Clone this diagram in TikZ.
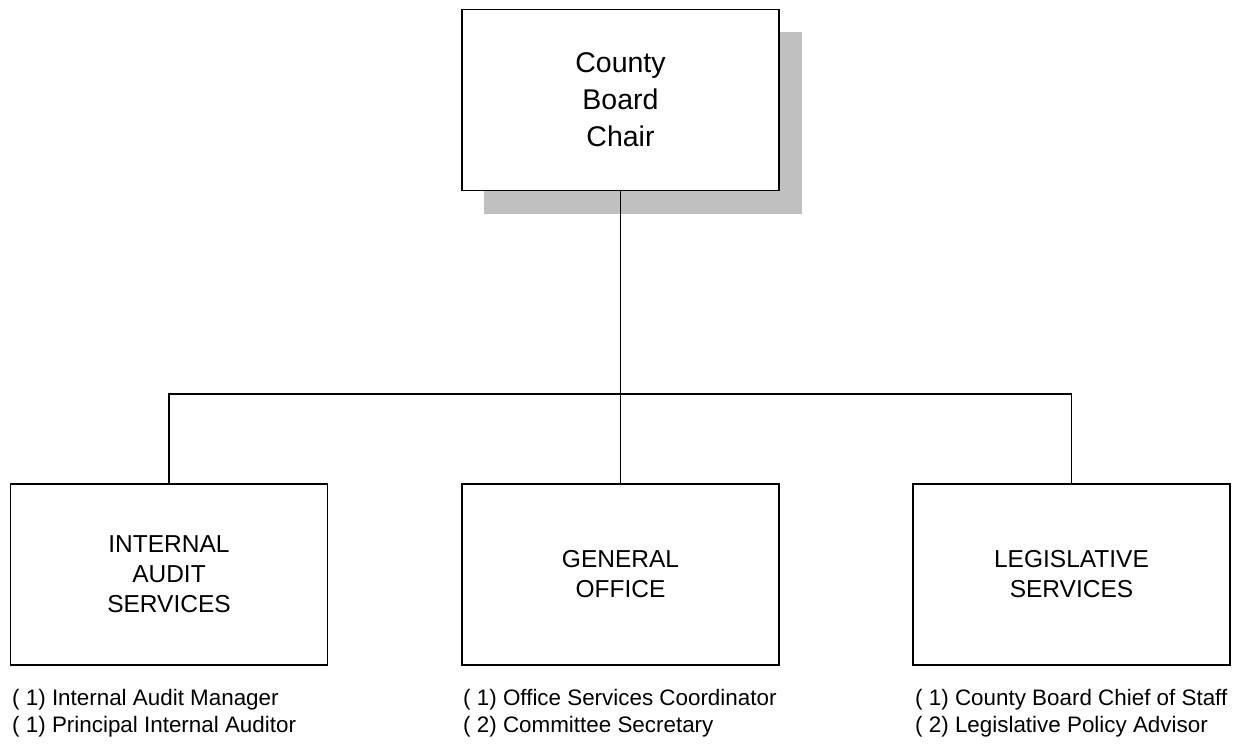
\documentclass[tikz,border=0pt]{standalone}
\usepackage{fontspec}
\setmainfont{Liberation Sans}
\begin{document}
\begin{tikzpicture}[x=1pt,y=-1pt,
  box/.style={draw=black,line width=1.3pt,fill=white,minimum width=317pt,minimum height=181pt,inner sep=0pt,align=center},
  line/.style={draw=black,line width=1.3pt},
  toptext/.style={font=\fontsize{28.5}{37}\selectfont},
  boxtext/.style={font=\fontsize{24.5}{30}\selectfont},
  listtext/.style={font=\fontsize{22.4}{27}\selectfont,align=left,anchor=west,inner sep=0pt}]
\useasboundingbox (0,0) rectangle (1234,745);
% shadow
\fill[fill={rgb,255:red,192;green,192;blue,192}] (484,32) rectangle (802,214);
% nodes
\node[box,toptext] (chair) at (620.5,100) {County\\Board\\Chair};
\node[box,boxtext] (audit) at (169,574.5) {INTERNAL\\AUDIT\\SERVICES};
\node[box,boxtext] (office) at (620.5,574.5) {GENERAL\\OFFICE};
\node[box,boxtext] (leg) at (1071.5,574.5) {LEGISLATIVE\\SERVICES};
% lists
\node[listtext] (l1) at (12,713.5) {( 1) Internal Audit Manager\\( 1) Principal Internal Auditor};
\node[listtext] (l2) at (463,713.5) {( 1) Office Services Coordinator\\( 2) Committee Secretary};
\node[listtext] (l3) at (915,713.5) {( 1) County Board Chief of Staff\\( 2) Legislative Policy Advisor};
% connectors
\coordinate (bus) at (620.5,394);
\draw[line] (chair.south) -- (office.north);
\draw[line] (audit.north) |- (bus) -| (leg.north);
\end{tikzpicture}
\end{document}
